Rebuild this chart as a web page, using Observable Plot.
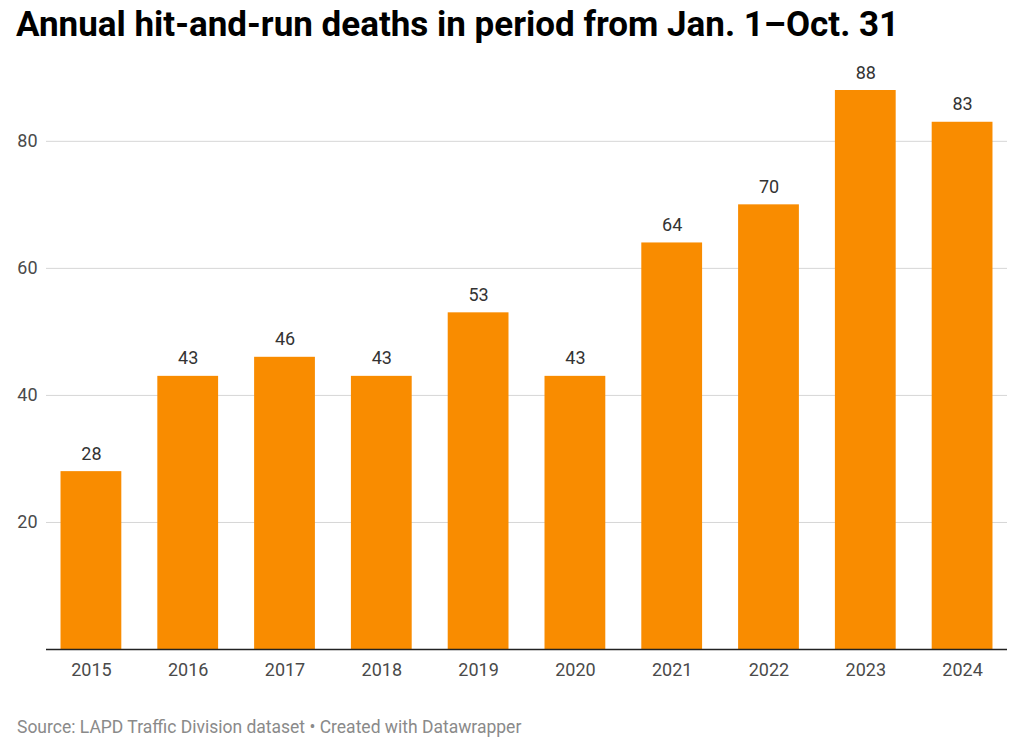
<!DOCTYPE html>
<html>
<head>
<meta charset="utf-8">
<script src="https://cdn.jsdelivr.net/npm/d3@7"></script>
<script src="https://cdn.jsdelivr.net/npm/@observablehq/plot@0.6"></script>
<style>
  html, body { margin: 0; padding: 0; background: #fff; }
  #wrap { position: relative; width: 1023px; height: 740px; font-family: Roboto, sans-serif; }
  #title { position: absolute; left: 16px; top: 4px; font-size: 35px; font-weight: 700; color: #000; white-space: nowrap; line-height: normal; }
  #chart { position: absolute; left: 0; top: 56px; }
  #footer { position: absolute; left: 17px; top: 717px; font-size: 17.5px; color: #8a8a8a; white-space: nowrap; line-height: normal; }
</style>
</head>
<body>
<div id="wrap">
  <div id="title">Annual hit-and-run deaths in period from Jan. 1–Oct. 31</div>
  <div id="chart"></div>
  <div id="footer">Source: LAPD Traffic Division dataset • Created with Datawrapper</div>
</div>
<script>
const years = ["2015","2016","2017","2018","2019","2020","2021","2022","2023","2024"];
const deaths = [28, 43, 46, 43, 53, 43, 64, 70, 88, 83];
const yTicks = [20, 40, 60, 80];

const data = years.map((y, i) => ({year: y, value: deaths[i]}));

const chart = Plot.plot({
  width: 1023,
  height: 643,
  marginLeft: 46,
  marginRight: 16,
  marginTop: 34,
  marginBottom: 50,
  style: {fontFamily: "Roboto, sans-serif", fontSize: "18px", color: "#444", background: "transparent"},
  x: {domain: years, paddingInner: 0.372, paddingOuter: 0.15, round: false, label: null},
  y: {domain: [0, 88], label: null},
  marks: [
    Plot.ruleY(yTicks, {stroke: "#d6d6d6", strokeWidth: 1}),
    Plot.axisY(yTicks, {tickSize: 0, tickPadding: 9, fontSize: 18, fill: "#4a4a4a", label: null}),
    Plot.axisX({tickSize: 0, tickPadding: 14, fontSize: 18, fill: "#4a4a4a", label: null}),
    Plot.barY(data, {x: "year", y: "value", fill: "#f98c00"}),
    Plot.ruleY([0], {stroke: "#222", strokeWidth: 1.5}),
    Plot.text(data, {x: "year", y: "value", text: d => String(d.value), lineAnchor: "bottom", dy: -12, fontSize: 18, fill: "#333"})
  ]
});
document.getElementById("chart").appendChild(chart);
</script>
</body>
</html>
